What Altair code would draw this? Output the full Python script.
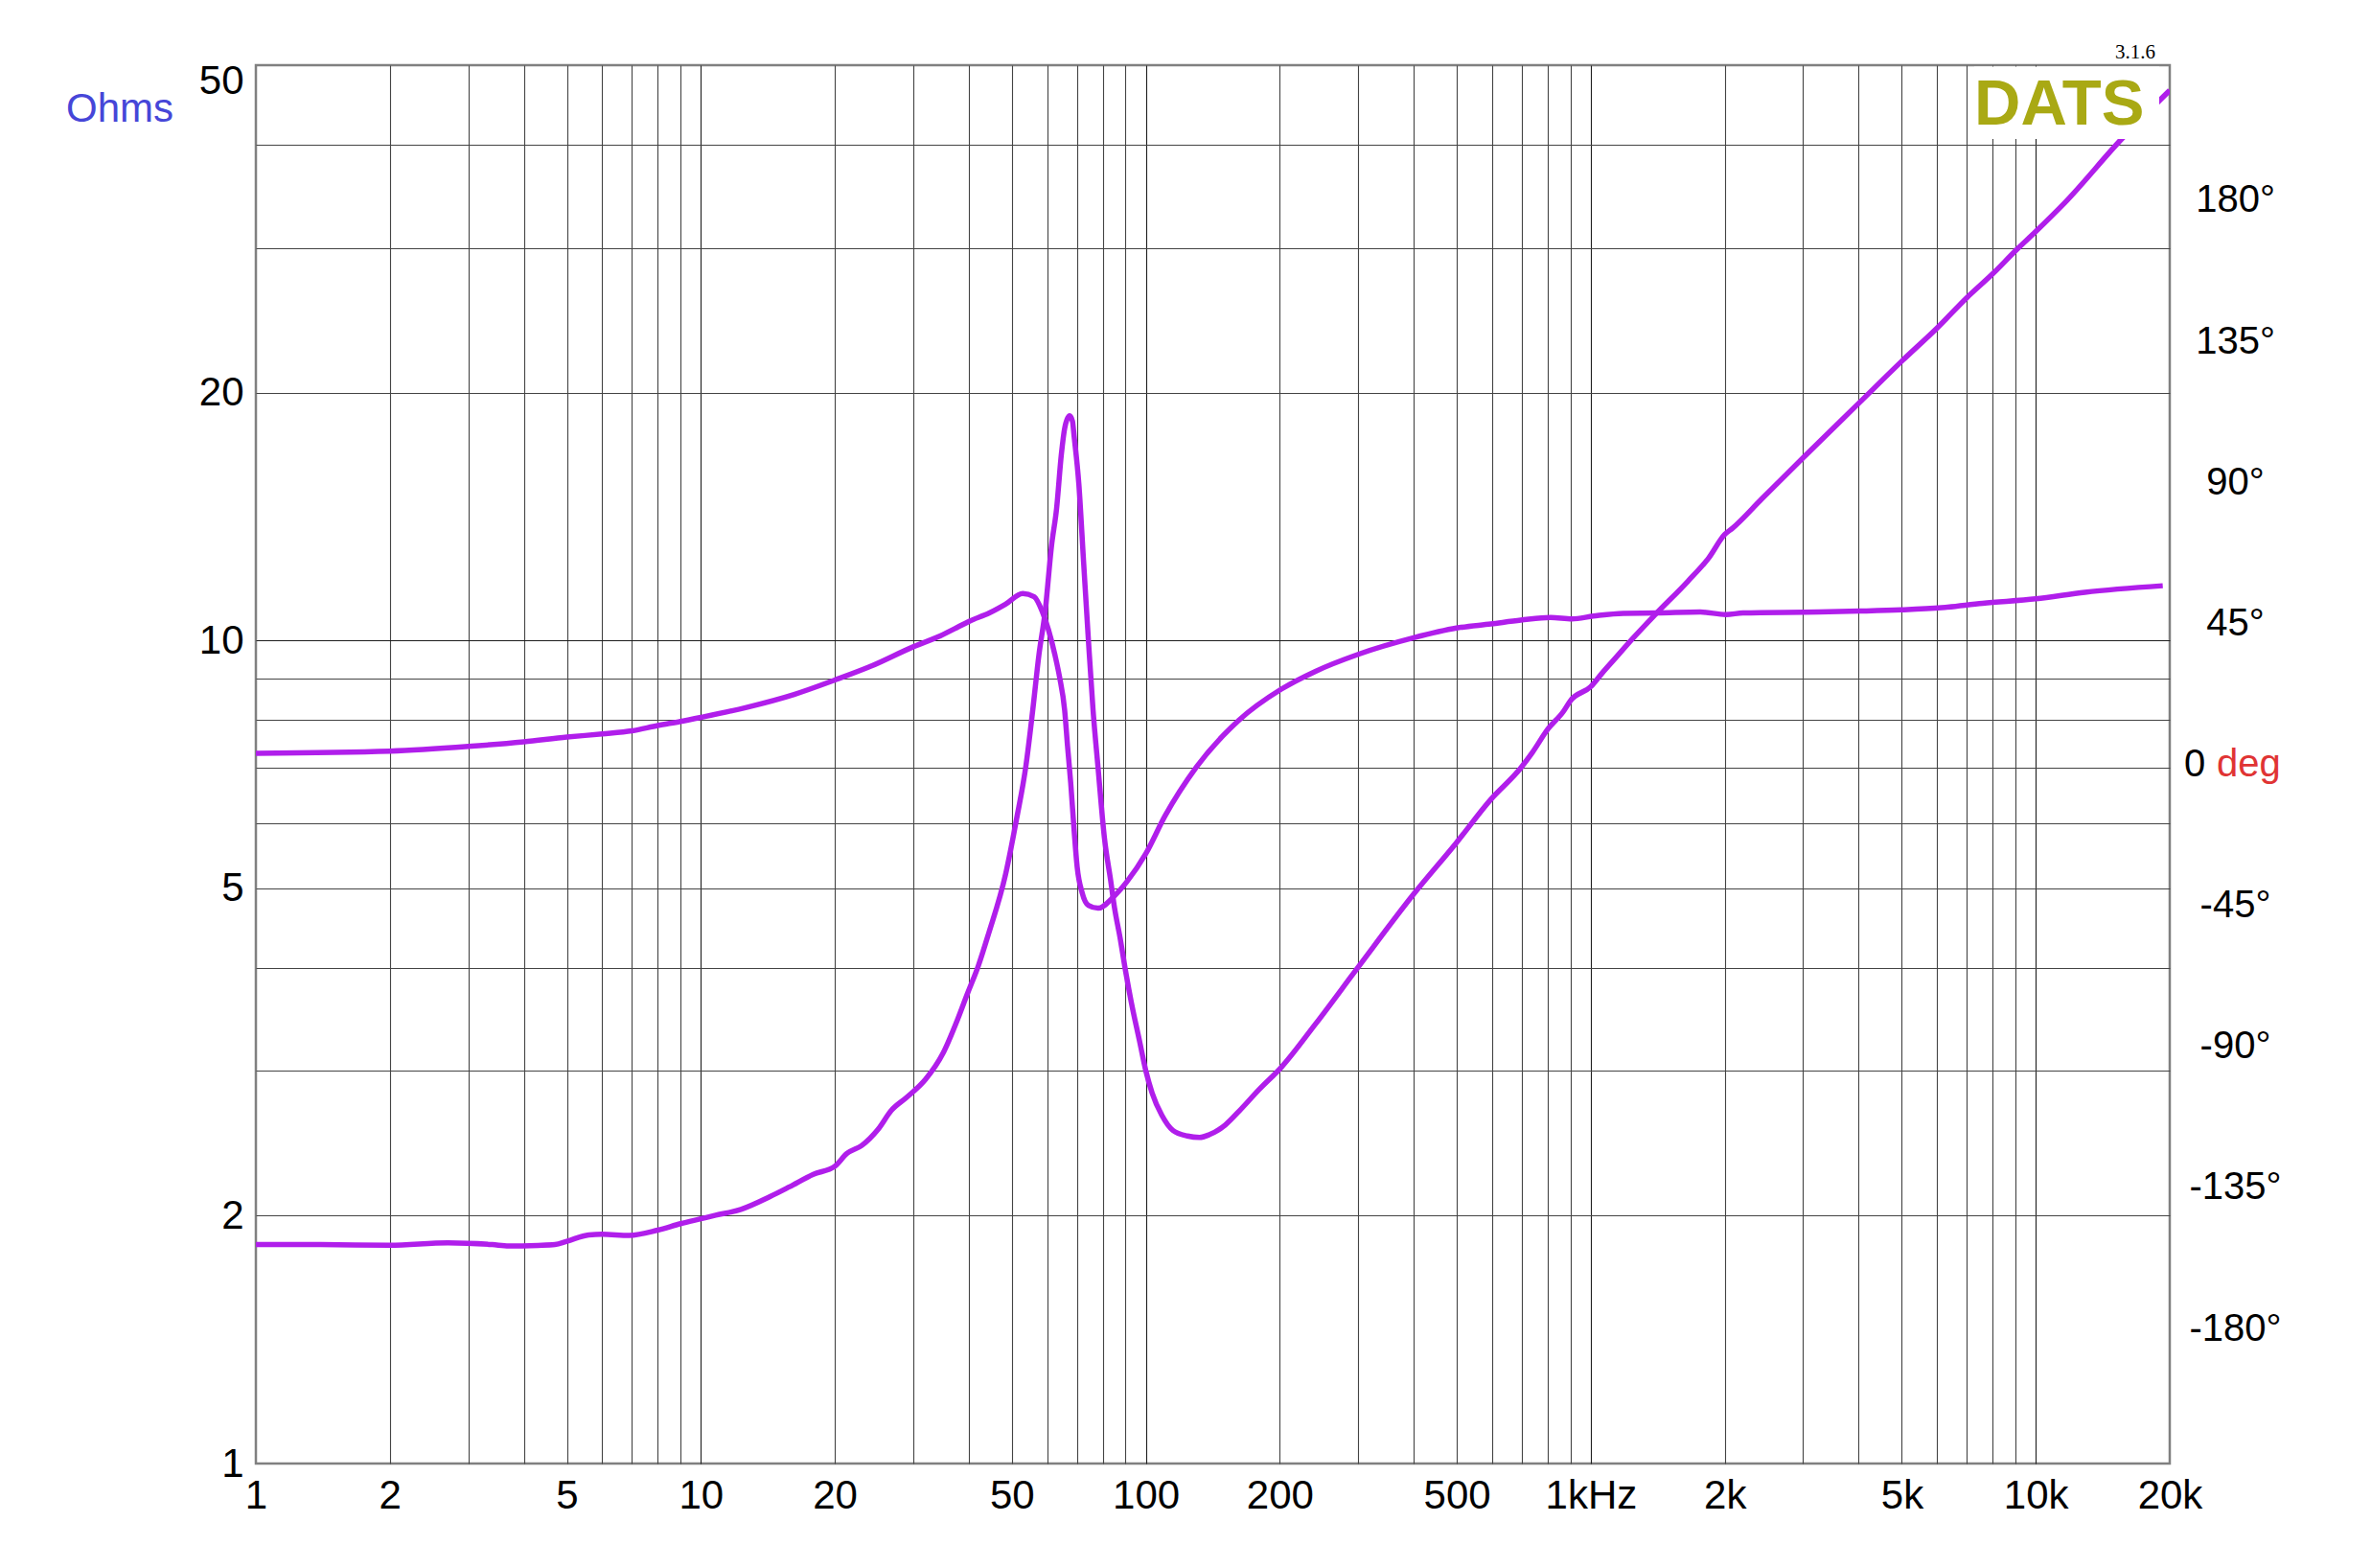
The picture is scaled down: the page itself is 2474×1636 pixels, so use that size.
import json
import altair as alt
import pandas as pd

# ---------------- data ----------------
freq_z = [1, 1.4, 2, 2.7, 3.4, 3.7, 4.3, 4.7, 5, 5.6,
          6, 6.9, 8, 9, 10, 10.8, 12.3, 14.3, 15.8, 17.9,
          20, 21.3, 23, 25, 26.8, 29, 32, 35, 37.8, 39.7,
          42, 44.3, 48.4, 51.2, 53.8, 55.7, 57.5, 59.4, 61.4, 63.0,
          64.6, 65.7, 67.4, 68.4, 69.0, 70.7, 72.5, 74.3, 76.1, 78.1,
          80.7, 83.4, 85, 87.6, 89.8, 92.8, 96.8, 100, 103.3, 108.6,
          115, 124, 132, 139, 151, 162, 180, 201.6, 240.6, 300,
          400, 499, 596, 696, 739, 800, 868, 900, 1000, 1059,
          1132, 1241, 1395, 1652, 1841, 1999, 2085, 2419, 3009, 4013,
          5023, 6016, 7004, 8006, 9032, 10000, 11600, 15610, 20000]
ohms = [1.845, 1.845, 1.842, 1.854, 1.845, 1.838, 1.841, 1.845, 1.862, 1.896,
        1.899, 1.893, 1.921, 1.956, 1.983, 2.003, 2.036, 2.11, 2.168, 2.246,
        2.297, 2.381, 2.435, 2.546, 2.686, 2.785, 2.93, 3.15, 3.47, 3.72,
        4.02, 4.40, 5.20, 6.06, 7.06, 8.23, 9.6, 10.85, 13.05, 14.45,
        16.85, 18.1, 18.75, 18.47, 17.7, 15.5, 12.4, 10.0, 8.23, 7.0,
        5.76, 5.1, 4.74, 4.34, 4.0, 3.63, 3.26, 3.0, 2.82, 2.65,
        2.54, 2.50, 2.49, 2.51, 2.58, 2.68, 2.85, 3.03, 3.42, 4.01,
        4.92, 5.68, 6.41, 7.00, 7.31, 7.8, 8.2, 8.45, 8.79, 9.12,
        9.50, 10.05, 10.75, 11.8, 12.6, 13.45, 13.7, 14.85, 16.7, 19.45,
        21.9, 24.0, 26.1, 27.9, 29.8, 31.4, 34.0, 40.7, 46.6]

freq_p = [1, 2, 3, 4, 5, 6, 7, 8, 9, 10,
          12.6, 16.2, 20, 24.2, 30, 34.5, 37.8, 40, 44.5, 48.4,
          52.9, 56.1, 58.5, 60.4, 62.5, 64.0, 65.7, 66.7, 67.8, 69.0,
          70.1, 71.9, 74.3, 78.1, 84.8, 90.6, 100, 110.4, 130, 161.6,
          201.6, 240.6, 300, 400, 499, 596, 696, 812, 907, 1013,
          1183, 1412, 1762, 2012, 2198, 3253, 4022, 4970, 6143, 7593,
          10000, 12895, 19290]
phase = [3.5, 4.2, 5.7, 7.2, 8.7, 9.7, 10.7, 12.4, 13.7, 15.0,
         18.1, 22.3, 26.9, 31.4, 37.5, 41.0, 43.8, 45.6, 48.3, 51.1,
         54.5, 53.5, 48.8, 43.0, 34.8, 27.8, 17.3, 5.7, -6.0, -21.1,
         -32.8, -40.9, -45.0, -45.9, -42.1, -37.5, -28.5, -16.5, -0.8, 14.0,
         24.0, 29.7, 35.1, 40.4, 43.5, 44.8, 46.0, 46.9, 46.4, 47.3,
         48.2, 48.3, 48.6, 47.8, 48.3, 48.6, 48.9, 49.3, 50.0, 51.4,
         52.8, 54.9, 57.0]

x_grid = [1, 2, 3, 4, 5, 6, 7, 8, 9, 10, 20, 30, 40, 50, 60, 70, 80, 90,
          100, 200, 300, 400, 500, 600, 700, 800, 900,
          1000, 2000, 3000, 4000, 5000, 6000, 7000, 8000, 9000, 10000, 20000]
x_label_vals = [1, 2, 5, 10, 20, 50, 100, 200, 500, 1000, 2000, 5000, 10000, 20000]
x_label_text = ["1", "2", "5", "10", "20", "50", "100", "200", "500",
                "1kHz", "2k", "5k", "10k", "20k"]
y_grid = [1, 2, 3, 4, 5, 6, 7, 8, 9, 10, 20, 30, 40, 50]
y_label_vals = [1, 2, 5, 10, 20, 50]
phase_ticks = [-180, -135, -90, -45, 0, 45, 90, 135, 180]

df_z = pd.DataFrame({"f": freq_z, "z": ohms})
df_p = pd.DataFrame({"f": freq_p, "p": phase})

# ---------------- styling ----------------
W, H = 1997, 1459
PURPLE = "#b01eeb"
FONT = "Liberation Sans, Arial, Helvetica, sans-serif"
GRID_MINOR = "#444444"
GRID_MAJOR = "#1e1e1e"

xv = json.dumps(x_label_vals)
xt = json.dumps(x_label_text).replace('"', "'")
x_label_expr = f"indexof({xv}, datum.value) < 0 ? '' : {xt}[indexof({xv}, datum.value)]"
yv = json.dumps(y_label_vals)
y_label_expr = f"indexof({yv}, datum.value) < 0 ? '' : '' + datum.value"

x_scale = alt.Scale(type="log", domain=[1, 20000], nice=False)
z_scale = alt.Scale(type="log", domain=[1, 50], nice=False)
p_scale = alt.Scale(domain=[-223.1, 223.1], nice=False, zero=False)

x_axis = alt.Axis(
    values=x_grid, labelExpr=x_label_expr, title=None, domain=False, ticks=False,
    grid=True,
    gridColor={"condition": {"test": "indexof([1,10,100,1000,10000], datum.value) >= 0",
                             "value": GRID_MAJOR}, "value": GRID_MINOR},
    gridOpacity={"condition": {"test": "datum.value == 1 || datum.value == 20000",
                               "value": 0}, "value": 1},
    gridWidth=1.1,
    labelFont=FONT, labelFontSize=42, labelColor="#000000", labelPadding=13,
    labelFlush=False, labelOverlap=False, labelBound=False, labelAlign="center",
    labelBaseline="top",
)
z_axis = alt.Axis(
    values=y_grid, labelExpr=y_label_expr, title=None, domain=False, ticks=False,
    grid=True, orient="left",
    gridColor={"condition": {"test": "datum.value == 10", "value": GRID_MAJOR},
               "value": GRID_MINOR},
    gridOpacity={"condition": {"test": "datum.value == 1 || datum.value == 50",
                               "value": 0}, "value": 1},
    gridWidth=1.1,
    labelFont=FONT, labelFontSize=42, labelColor="#000000", labelPadding=13,
    labelFlush=False, labelOverlap=False, labelBound=False, labelAlign="right",
    labelBaseline={"condition": {"test": "datum.value == 50", "value": "top"},
                   "value": "middle"},
    labelOffset={"condition": {"test": "datum.value == 50", "value": -4},
                 "value": 0},
)
p_axis = alt.Axis(
    values=phase_ticks, labelExpr="datum.value == 0 ? '' : datum.value + '°'",
    title=None, domain=False, ticks=False, grid=False, orient="right",
    labelFont=FONT, labelFontSize=40, labelColor="#000000", labelPadding=68,
    labelFlush=False, labelOverlap=False, labelBound=False, labelAlign="center",
    labelBaseline="middle",
)

imp = alt.Chart(df_z).mark_line(
    color=PURPLE, strokeWidth=5.5, interpolate="monotone", clip=True
).encode(
    x=alt.X("f:Q", scale=x_scale, axis=x_axis),
    y=alt.Y("z:Q", scale=z_scale, axis=z_axis),
)
ph = alt.Chart(df_p).mark_line(
    color=PURPLE, strokeWidth=5.5, interpolate="monotone", clip=True
).encode(
    x=alt.X("f:Q", scale=x_scale, axis=x_axis),
    y=alt.Y("p:Q", scale=p_scale, axis=p_axis),
)

one = alt.Data(values=[{"k": 1}])

logo_box = alt.Chart(one).mark_rect(color="white").encode(
    x=alt.value(1793), x2=alt.value(1986), y=alt.value(1.5), y2=alt.value(77)
)
logo = alt.Chart(one).mark_text(
    text="DATS", font=FONT, fontSize=67, fontWeight="bold", color="#a9a914",
    align="left", baseline="alphabetic"
).encode(x=alt.value(1793), y=alt.value(62))
version = alt.Chart(one).mark_text(
    text="3.1.6", font="Liberation Serif, Times New Roman, serif", fontSize=21,
    color="#000000", align="right", baseline="alphabetic"
).encode(x=alt.value(1982), y=alt.value(-7))
ohms_lbl = alt.Chart(one).mark_text(
    text="Ohms", font=FONT, fontSize=42, color="#4646d8", align="center",
    baseline="middle"
).encode(x=alt.value(-142), y=alt.value(46))
zero_lbl = alt.Chart(one).mark_text(
    text="0", font=FONT, fontSize=40, color="#000000", align="left",
    baseline="middle"
).encode(x=alt.value(2012), y=alt.value(H / 2))
deg_lbl = alt.Chart(one).mark_text(
    text="deg", font=FONT, fontSize=40, color="#e03434", align="left",
    baseline="middle"
).encode(x=alt.value(2046), y=alt.value(H / 2))

chart = alt.layer(
    imp, ph, logo_box, logo, version, ohms_lbl, zero_lbl, deg_lbl
).resolve_scale(
    y="independent"
).properties(
    width=W, height=H,
    padding={"left": 259, "top": 60, "right": 190, "bottom": 90},
    autosize=alt.AutoSizeParams(type="none"),
    background="white",
).configure_view(
    stroke="#808080", strokeWidth=2.5
)

chart.save("out.html", embed_options={"renderer": "svg", "actions": False})
